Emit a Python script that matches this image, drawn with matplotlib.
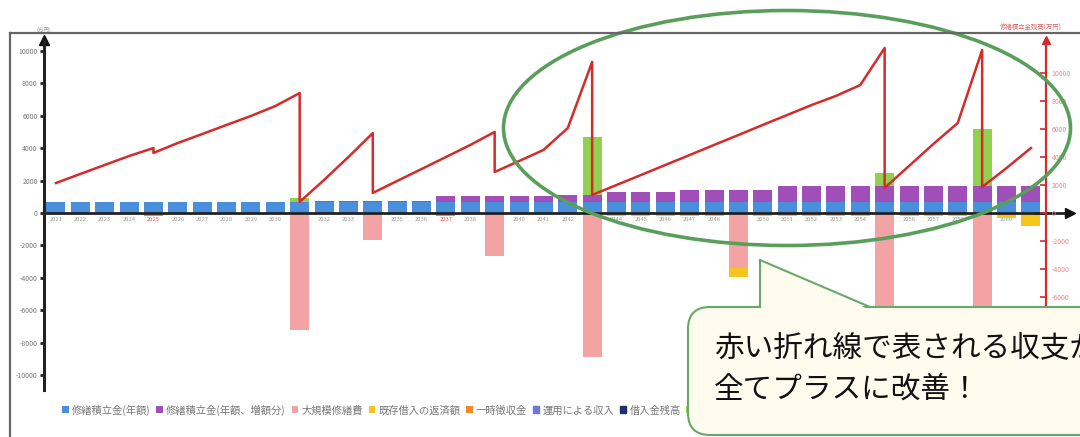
import numpy as np
import matplotlib.pyplot as plt
import matplotlib.transforms as mtransforms
from matplotlib.patches import Ellipse, FancyBboxPatch, Polygon, Patch

plt.rcParams['font.family'] = ['Noto Sans CJK JP', 'DejaVu Sans']

# ---- data (万円) ----
years = list(range(2021, 2062))

# 修繕積立金(年額)
tsumitate = [650] * 41
# 修繕積立金(年額、増額分)
zougaku = [0] * 11 + [120] * 5 + [370] * 5 + [490] * 2 + [620] * 3 + [740] * 4 + [990] * 11
# 一時借入金 (green)
kariire = {2031: 250, 2043: 3580, 2055: 800, 2059: 3520}
# 大規模修繕費
shuzen = {2031: -7200, 2034: -1650, 2039: -2650, 2043: -8900, 2049: -3400, 2055: -8500, 2059: -8500}
# 既存借入の返済額
hensai = {y: -200 for y in range(2044, 2062)}
hensai[2049] = -550
hensai[2060] = -300
hensai[2061] = -800
# 一時徴収金
ichiji = {2025: -200, 2037: -200}

# 収支 (balance line, right axis) -- repair years have a before / after point
line_years = [2021, 2022, 2023, 2024, 2025, 2025, 2026, 2027, 2028, 2029, 2030, 2031, 2031,
              2032, 2033, 2034, 2034, 2035, 2036, 2037, 2038, 2039, 2039,
              2040, 2041, 2042, 2043, 2043,
              2044, 2045, 2046, 2047, 2048, 2049, 2050, 2051, 2052, 2053, 2054, 2055, 2055,
              2056, 2057, 2058, 2059, 2059, 2060, 2061]
line_vals = [2140, 2790, 3430, 4070, 4640, 4290, 5000, 5640, 6290, 6930, 7640, 8570, 790,
             2360, 4000, 5710, 1430, 2290, 3140, 4000, 4860, 5790, 2930,
             3710, 4500, 6070, 10790, 1290,
             2000, 2710, 3430, 4140, 4860, 5570, 6290, 7000, 7710, 8360, 9140, 11790, 1790,
             3360, 4930, 6430, 11640, 1860, 3210, 4640]

repair_years = [2025, 2031, 2034, 2037, 2039, 2043, 2049, 2055, 2059]

legend_labels = ["修繕積立金(年額)", "修繕積立金(年額、増額分)", "大規模修繕費", "既存借入の返済額",
                 "一時徴収金", "運用による収入", "借入金残高", "一時借入金"]

# ---- build ----
x = np.array(years)
blue = np.array(tsumitate)
purple = np.array(zougaku)
green = np.array([kariire.get(y, 0) for y in years])
pink = np.array([shuzen.get(y, 0) for y in years])
yellow = np.array([hensai.get(y, 0) for y in years])
orange = np.array([ichiji.get(y, 0) for y in years])

c_blue = "#4a8fdc"
c_purple = "#a14fb8"
c_green = "#92d050"
c_pink = "#f3a3a3"
c_yellow = "#f6c51c"
c_orange = "#f08a24"
c_red = "#d42b2b"

fig = plt.figure(figsize=(10.8, 4.37), dpi=100)
W, H = 1080, 437
ax_l, ax_r, ax_t, ax_b = 44, 1046, 40, 390
ax = fig.add_axes([ax_l / W, 1 - ax_b / H, (ax_r - ax_l) / W, (ax_b - ax_t) / H])

w = 0.78
ax.bar(x, blue, w, color=c_blue, label=legend_labels[0], zorder=2)
ax.bar(x, purple, w, bottom=blue, color=c_purple, label=legend_labels[1], zorder=2)
ax.bar(x, green, w, bottom=blue + purple, color=c_green, label=legend_labels[7], zorder=2)
ax.bar(x, pink, w, color=c_pink, label=legend_labels[2], zorder=2)
ax.bar(x, yellow, w, bottom=pink, color=c_yellow, label=legend_labels[3], zorder=2)
ax.bar(x, orange, w, color=c_orange, label=legend_labels[4], zorder=2)

ax.set_xlim(2021 - 0.49, 2061 + 0.62)
ax.set_ylim(-10926, 10679)
ax.set_facecolor("none")

for s in ["top", "right"]:
    ax.spines[s].set_visible(False)
ax.spines["left"].set_linewidth(2.2)
ax.spines["left"].set_color("#222")
ax.spines["bottom"].set_position(("data", 0))
ax.spines["bottom"].set_linewidth(2)
ax.spines["bottom"].set_color("#222")
ax.spines["bottom"].set_zorder(3)

ax.set_yticks(range(-10000, 10001, 2000))
ax.set_yticklabels([str(v) for v in range(-10000, 10001, 2000)], fontsize=5, color="#777")
ax.tick_params(axis="y", direction="out", length=3, width=2, color="#222", pad=1.5)
ax.set_xticks(years)
ax.set_xticklabels([str(y) for y in years], fontsize=4.2, color="#999")
ax.tick_params(axis="x", length=0, pad=3)
for lab, y in zip(ax.get_xticklabels(), years):
    if y in repair_years:
        lab.set_color("#e05a5a")

# x axis extension + arrows
blend = mtransforms.blended_transform_factory(ax.transAxes, ax.transData)
ax.plot([0.99, 1.02], [0, 0], color="#222", lw=2, transform=blend, clip_on=False, zorder=3)
ax.plot([1.024], [0], marker=">", color="#111", ms=7, transform=blend, clip_on=False, zorder=3)
ax.plot([0], [1.0], marker="^", color="#111", ms=7, transform=ax.transAxes, clip_on=False)
ax.text(0, 1.02, "(万円)", fontsize=4, color="#999", ha="center", va="bottom", transform=ax.transAxes)

# legend
handles, labels = ax.get_legend_handles_labels()
order = [legend_labels[i] for i in [0, 1, 2, 3, 4]]
hmap = dict(zip(labels, handles))
leg_handles = [hmap[l] for l in order] + [Patch(color="#6f78d8"), Patch(color="#1f2f6e"), hmap[legend_labels[7]]]
leg_labels = order + [legend_labels[5], legend_labels[6], legend_labels[7]]
ax.legend(leg_handles, leg_labels, loc="center left", bbox_to_anchor=(53 / W, 1 - 410 / H),
          bbox_transform=fig.transFigure, ncol=8, frameon=False, fontsize=7.4,
          handlelength=0.65, handleheight=0.65, columnspacing=0.55, handletextpad=0.3,
          labelcolor="#777")

# right axis with balance line
ax2 = ax.twinx()
ax2.set_ylim(-12643, 12357)
ax2.plot(line_years, line_vals, color=c_red, lw=1.8, zorder=4)
for s in ["top", "left", "bottom"]:
    ax2.spines[s].set_visible(False)
ax2.spines["right"].set_color(c_red)
ax2.spines["right"].set_linewidth(1.6)
ax2.set_yticks(range(-6000, 10001, 2000))
ax2.set_yticklabels([str(v) for v in range(-6000, 10001, 2000)], fontsize=5, color="#ee8888")
ax2.tick_params(axis="y", direction="in", length=4, width=1.2, color=c_red, pad=4)
ax2.plot([1], [1.0], marker="^", color=c_red, ms=6, transform=ax2.transAxes, clip_on=False)
ax2.text((1000 - ax_l) / (ax_r - ax_l), 1.025, "修繕積立金残高(万円)", fontsize=4.6, color="#e06060",
         ha="left", va="bottom", transform=ax2.transAxes)

# ---- overlay: frame, ellipse, speech bubble ----
ov = fig.add_axes([0, 0, 1, 1])
ov.set_xlim(0, W)
ov.set_ylim(H, 0)
ov.axis("off")
ov.plot([10, 10], [33, H], color="#666", lw=1.6)
ov.plot([10, W], [33, 33], color="#666", lw=1.6)

ov.add_patch(Ellipse((787, 128), 567, 235, fill=False, ec="#5a9e5c", lw=2.6))

green_edge = "#6aa86a"
cream = "#fffbef"
ov.add_patch(FancyBboxPatch((688, 307), 450, 128, boxstyle="round,pad=0,rounding_size=22",
                            fc=cream, ec=green_edge, lw=1.5))
ov.add_patch(Polygon([(761, 310), (760, 260), (870, 310)], closed=True, fc=cream, ec="none"))
ov.plot([760, 760], [260, 307], color=green_edge, lw=1.5)
ov.plot([760, 870], [260, 307], color=green_edge, lw=1.5)

ov.text(714, 348, "赤い折れ線で表される収支が", fontsize=21.3, color="#111", ha="left", va="center")
ov.text(714, 389, "全てプラスに改善！", fontsize=21.3, color="#111", ha="left", va="center")

fig.savefig("out.png", dpi=100)
